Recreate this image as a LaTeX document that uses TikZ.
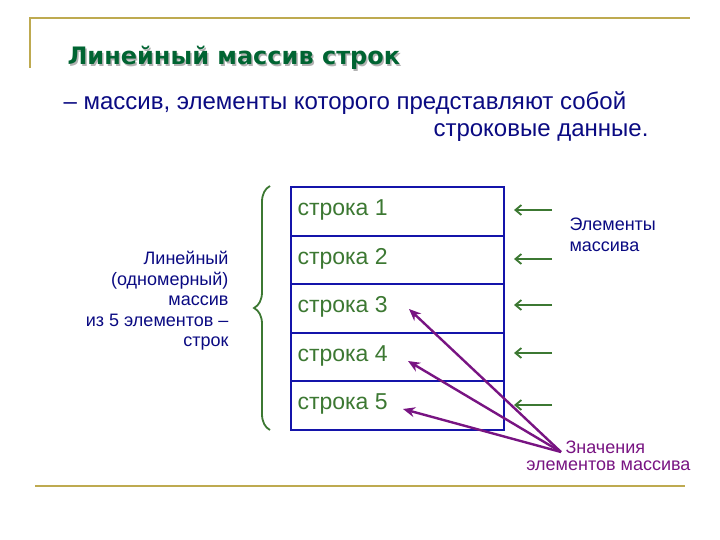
\documentclass[tikz,border=0pt]{standalone}
\usepackage{fontspec}
\setmainfont{Liberation Sans}
\newfontfamily\titlefont{DejaVu Sans}
\usetikzlibrary{decorations.pathreplacing,arrows.meta}
\definecolor{gold}{RGB}{190,170,80}
\definecolor{tgreen}{RGB}{0,100,50}
\definecolor{sgreen}{RGB}{60,120,50}
\definecolor{navy}{RGB}{10,10,130}
\definecolor{boxblue}{RGB}{20,20,170}
\definecolor{purp}{RGB}{120,20,130}
\begin{document}
\begin{tikzpicture}[x=1pt,y=-1pt,
  cell/.style={draw=boxblue,line width=2pt,minimum width=213pt,minimum height=48.6pt,anchor=north west,inner sep=0pt},
  celltxt/.style={text=sgreen,font=\fontsize{23}{26}\selectfont,anchor=west},
  garr/.style={draw=sgreen,line width=1.8pt,-{Straight Barb[length=6pt,width=10pt]}},
  parr/.style={draw=purp,line width=2.4pt,-{Stealth[length=12pt,width=10pt]}},
  gline/.style={draw=gold,line width=2.5pt}]
\useasboundingbox (0,0) rectangle (720,540);
\draw[gline] (30,68) -- (30,18) -- (690,18);
\draw[gline] (35,486) -- (685,486);
\node[anchor=west,text=gray!60,font=\titlefont\bfseries\fontsize{24}{28}\selectfont] at (65.5,59.5) {Линейный массив строк};
\node[anchor=west,text=tgreen,font=\titlefont\bfseries\fontsize{24}{28}\selectfont] (title) at (64,58) {Линейный массив строк};
\node[anchor=west,text=navy,font=\fontsize{24}{28}\selectfont] (sub1) at (60,103) {– массив, элементы которого представляют собой};
\node[anchor=east,text=navy,font=\fontsize{24}{28}\selectfont] (sub2) at (652,133) {строковые данные.};
\foreach \i in {1,...,5}{
  \node[cell] (c\i) at (290,{186+48.6*(\i-1)}) {};
  \node[celltxt] (t\i) at (294,{186+48.6*(\i-1)+24}) {строка \i};
}
\draw[sgreen,line width=1.8pt,decorate,decoration={brace,amplitude=16pt}] (270,430) -- (270,186);
\node[align=right,anchor=north east,text=navy,font=\fontsize{18}{20.5}\selectfont] (lab) at (232,248) {Линейный\\(одномерный)\\массив\\из 5 элементов –\\строк};
\foreach \y [count=\i] in {210,259,305,353,405}{
  \coordinate (g\i) at (552,\y);
  \coordinate (h\i) at (514,\y);
  \draw[garr] (g\i) -- (h\i);
}
\node[align=left,anchor=north west,text=navy,font=\fontsize{18}{21}\selectfont] (el) at (566,214) {Элементы\\массива};
\node[anchor=north west,text=purp,font=\fontsize{18}{20}\selectfont] (zn) at (562,437) {Значения};
\node[anchor=north east,text=purp,font=\fontsize{18}{20}\selectfont] (zn2) at (694,457) {элементов массива};
\coordinate (p) at (561,452);
\coordinate (a3) at (409,309);
\coordinate (a4) at (408,361);
\coordinate (a5) at (403,409);
\draw[parr] (p) -- (a3);
\draw[parr] (p) -- (a4);
\draw[parr] (p) -- (a5);
\end{tikzpicture}
\end{document}
